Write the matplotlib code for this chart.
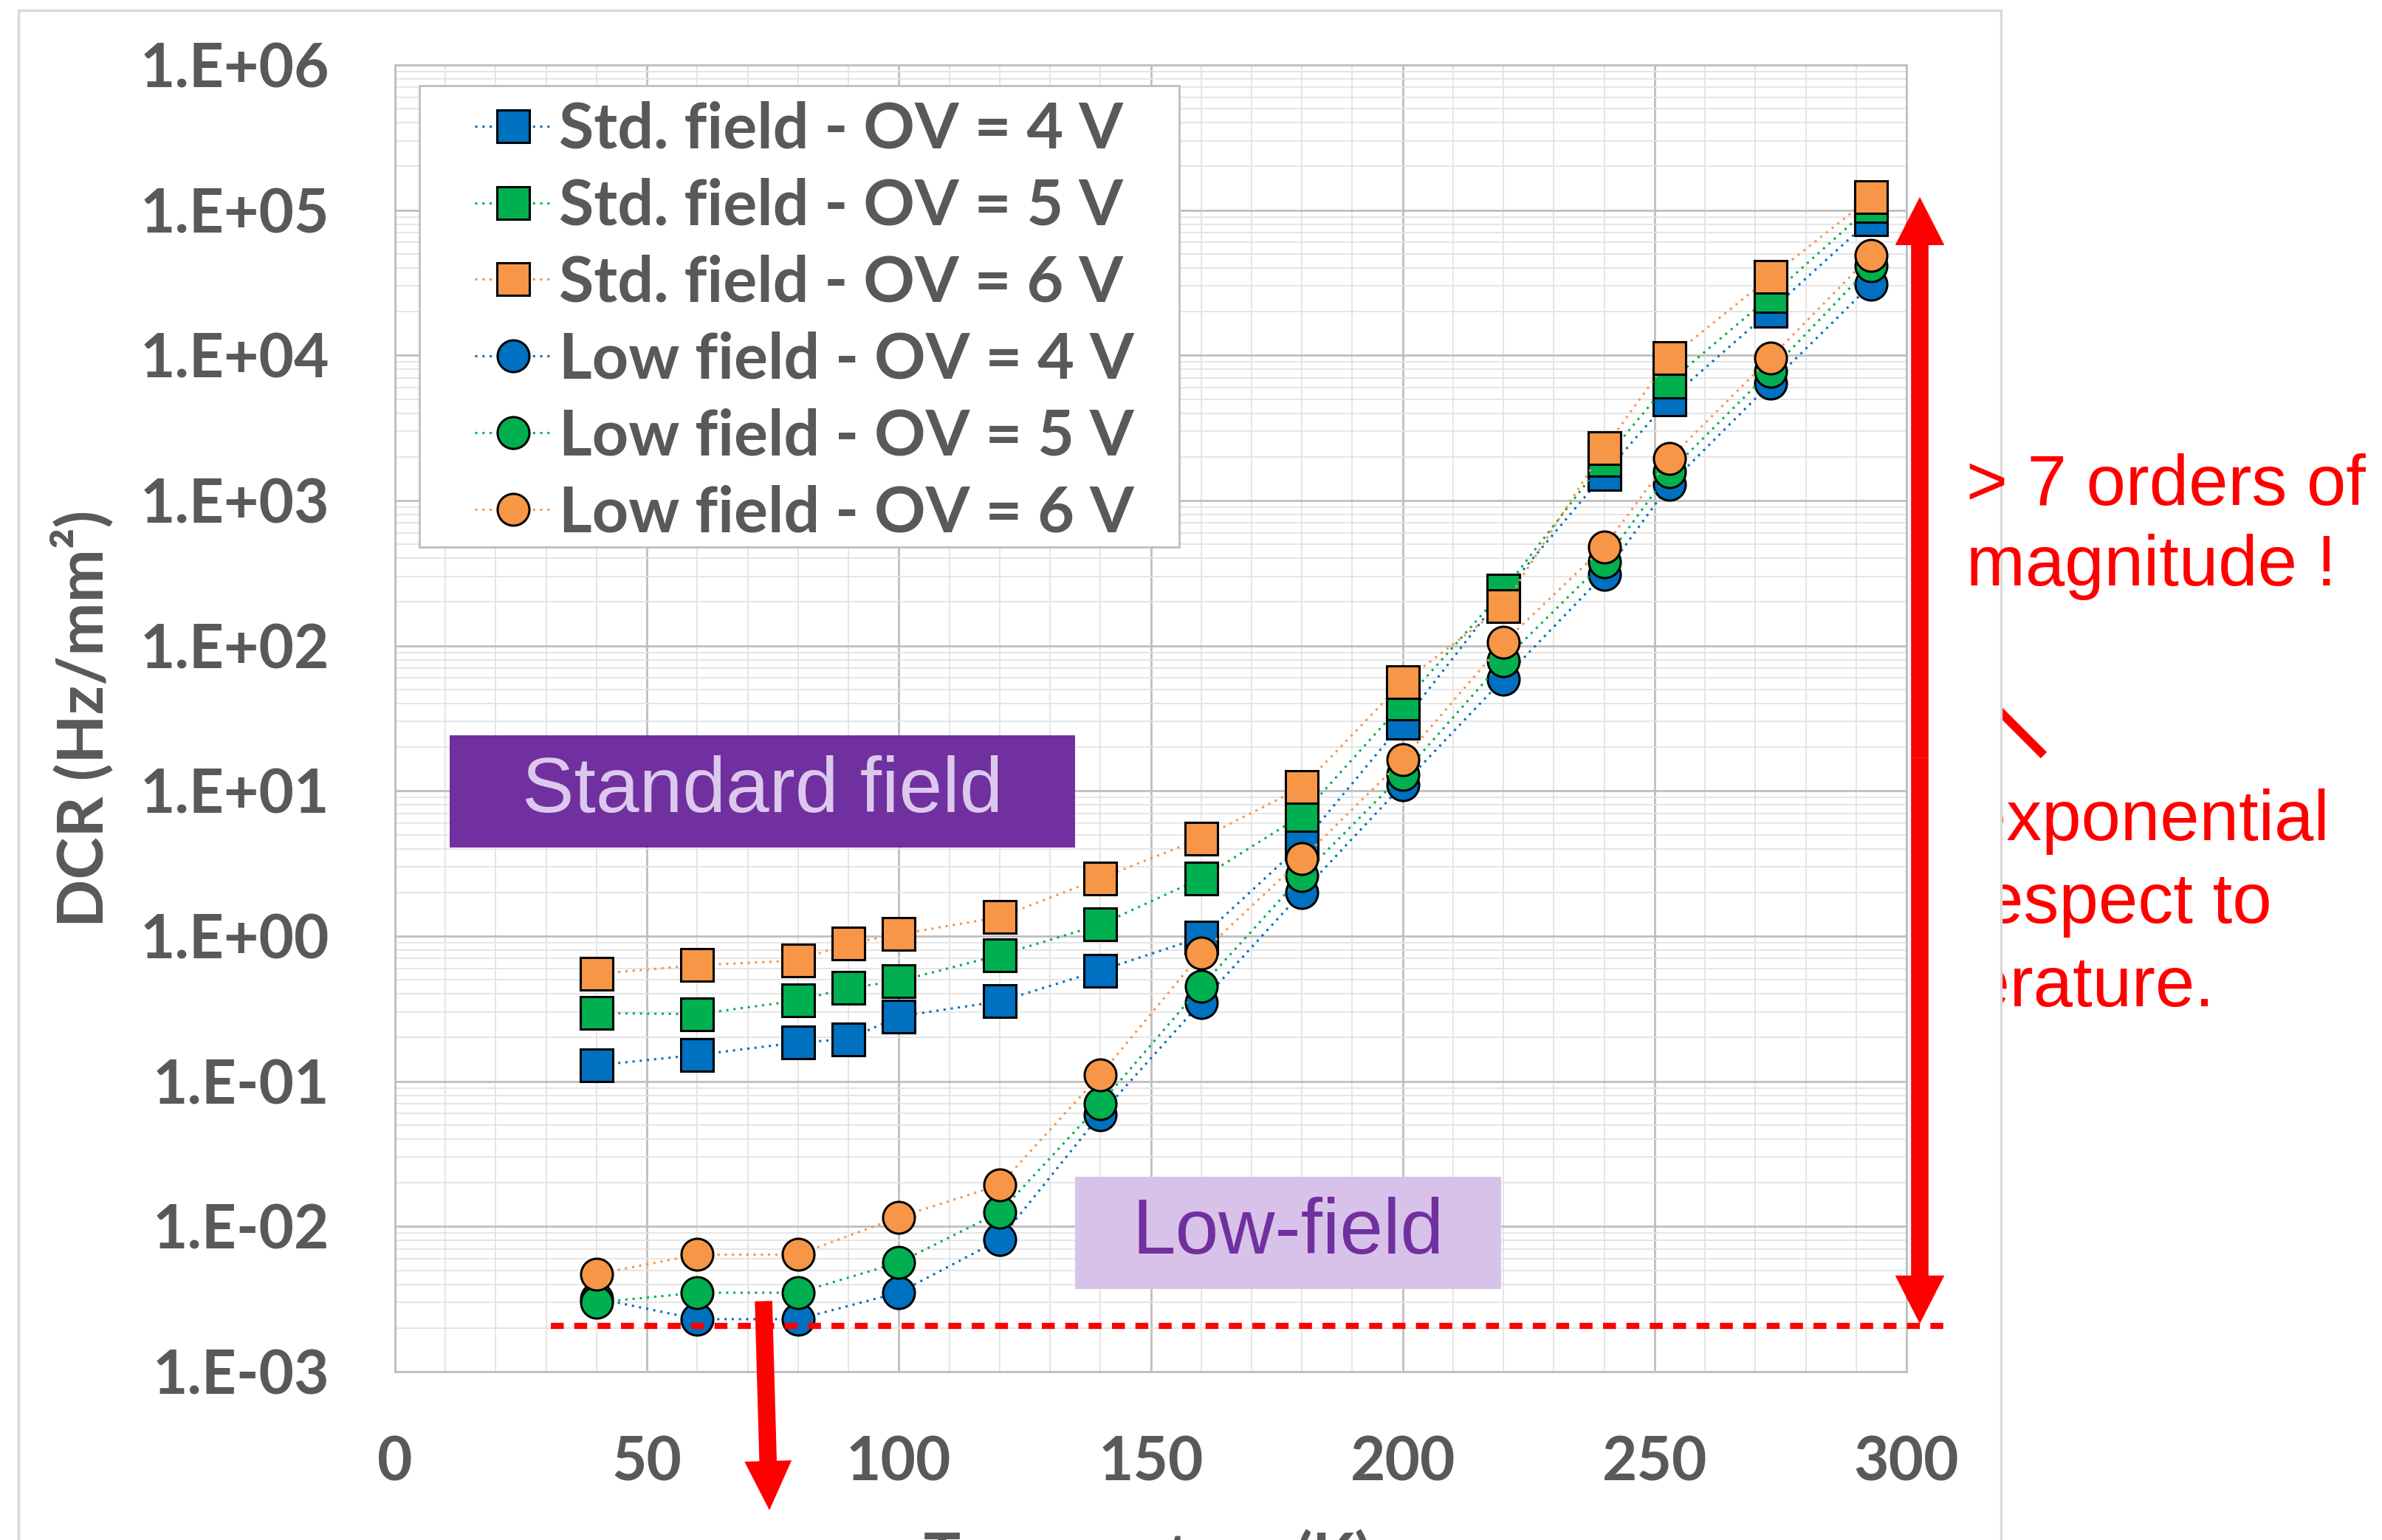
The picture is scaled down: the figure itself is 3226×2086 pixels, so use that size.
import math
import matplotlib
matplotlib.use("Agg")
import matplotlib.pyplot as plt
from matplotlib.patches import Rectangle, FancyArrowPatch
from matplotlib.lines import Line2D
from matplotlib.ticker import FixedLocator, FuncFormatter, MultipleLocator, LogLocator, NullFormatter

# temperatures (K)
T_std = [40, 60, 80, 90, 100, 120, 140, 160, 180, 200, 220, 240, 253, 273, 293]
T_low = [40, 60, 80, 100, 120, 140, 160, 180, 200, 220, 240, 253, 273, 293]

# DCR (Hz/mm2)
std4 = [0.129, 0.152, 0.185, 0.195, 0.28, 0.355, 0.58, 0.98, 4.3, 29.5, 230, 1520, 5000, 20300, 87000]
std5 = [0.295, 0.29, 0.36, 0.44, 0.49, 0.74, 1.2, 2.5, 6.8, 40, 240, 1900, 6600, 25500, 107000]
std6 = [0.55, 0.63, 0.68, 0.89, 1.03, 1.35, 2.5, 4.7, 10.6, 56, 187, 2290, 9600, 34700, 123000]
low4 = [0.0032, 0.0023, 0.0023, 0.0035, 0.0081, 0.059, 0.35, 2.0, 11, 59, 310, 1290, 6400, 30800]
low5 = [0.0030, 0.0035, 0.0035, 0.00565, 0.0125, 0.070, 0.45, 2.6, 13, 79, 380, 1580, 7800, 41500]
low6 = [0.0047, 0.0064, 0.0064, 0.0116, 0.0193, 0.111, 0.76, 3.4, 16.4, 105, 480, 1950, 9600, 49000]

labels = ["Std. field - OV = 4 V", "Std. field - OV = 5 V", "Std. field - OV = 6 V",
          "Low field - OV = 4 V", "Low field - OV = 5 V", "Low field - OV = 6 V"]
colors = ["#0070C0", "#00B050", "#F79646"]

x_ticks = [0, 50, 100, 150, 200, 250, 300]
y_decades = [-3, -2, -1, 0, 1, 2, 3, 4, 5, 6]

gray = "#595959"
fnt = ["Lato", "DejaVu Sans"]
arial = ["Liberation Sans", "DejaVu Sans"]

fig = plt.figure(figsize=(32.26, 20.86), dpi=100)
W, H = 3226.0, 2086.0

# chart area frame; the side text sits behind it
fig.patches.append(Rectangle((25 / W, -0.05), (2710 - 25) / W, 1.05 - 14 / H,
                             transform=fig.transFigure, facecolor="white",
                             edgecolor="#d9d9d9", lw=2.5, zorder=-1))
for txt, xr, yb in [("~exponential", 3155, 1138), ("with respect to", 3077, 1250),
                    ("temperature.", 2999, 1363)]:
    fig.text(xr / W, 1 - yb / H, txt, ha="right", va="baseline", color="red",
             fontsize=69, family=arial, zorder=-2)
fig.lines.append(Line2D([2690 / W, 2768 / W], [1 - 945 / H, 1 - 1023 / H],
                        transform=fig.transFigure, color="red", lw=8.5,
                        solid_capstyle="butt", zorder=-2))

fig.text(2663 / W, 1 - 684 / H, "> 7 orders of", color="red", fontsize=69,
         family=arial, va="baseline", ha="left", zorder=5)
fig.text(2663 / W, 1 - 793 / H, "magnitude !", color="red", fontsize=69,
         family=arial, va="baseline", ha="left", zorder=5)

ax = fig.add_axes([535 / W, 1 - 1858 / H, 2047 / W, 1770 / H])
ax.set_facecolor("white")

series = [(T_std, std4, "s", 0), (T_std, std5, "s", 1), (T_std, std6, "s", 2),
          (T_low, low4, "o", 0), (T_low, low5, "o", 1), (T_low, low6, "o", 2)]
for (t, v, m, c), lab in zip(series, labels):
    ax.plot(t, v, linestyle=(0, (1, 2.2)), lw=2.2, color=colors[c], marker=m,
            markersize=31, markerfacecolor=colors[c], markeredgecolor="black",
            markeredgewidth=2.2, label=lab, zorder=3)

ax.set_yscale("log")
ax.set_xlim(0, 300)
ax.set_ylim(1e-3, 1e6)
ax.xaxis.set_major_locator(FixedLocator(x_ticks))
ax.xaxis.set_minor_locator(MultipleLocator(10))
ax.yaxis.set_major_locator(FixedLocator([10.0 ** e for e in y_decades]))
ax.yaxis.set_minor_locator(LogLocator(base=10, subs=range(2, 10), numticks=20))
ax.yaxis.set_minor_formatter(NullFormatter())
ax.yaxis.set_major_formatter(FuncFormatter(lambda v, p: "1.E%+03d" % round(math.log10(v))))
ax.grid(which="major", color="#bfbfbf", lw=2.0, zorder=0)
ax.grid(which="minor", color="#e3e3e3", lw=1.3, zorder=0)
ax.set_axisbelow(True)
for s in ax.spines.values():
    s.set_color("#bfbfbf")
    s.set_linewidth(2.0)
ax.tick_params(which="both", length=0)
ax.tick_params(axis="y", pad=64)
ax.tick_params(axis="x", pad=62)
for lab in ax.get_xticklabels() + ax.get_yticklabels():
    lab.set_fontsize(59)
    lab.set_fontweight("bold")
    lab.set_color(gray)
    lab.set_family(fnt)

ax.set_ylabel("DCR (Hz/mm²)", fontsize=62, fontweight="bold", color=gray, family=fnt)
ax.yaxis.set_label_coords(-0.186, 0.5)
fig.text(0.4817, 1 - 2136 / H, "Temperature (K)", ha="center", va="baseline",
         fontsize=60, fontweight="bold", color=gray, family=fnt)

# legend with its own box
ax.add_patch(Rectangle((0.016, 0.631), 0.503, 0.353, transform=ax.transAxes,
                       facecolor="white", edgecolor="#bfbfbf", lw=2, zorder=4))
leg = ax.legend(loc="upper left", bbox_to_anchor=(0.053, 0.9725), frameon=False,
                borderpad=0, borderaxespad=0, handlelength=1.2, handletextpad=0.12,
                labelspacing=0.29, prop={"family": fnt, "weight": "bold", "size": 62},
                labelcolor=gray)
leg.set_zorder(5)

# annotation boxes
ax.add_patch(Rectangle((0.036, 0.401), 0.414, 0.086, transform=ax.transAxes,
                       facecolor="#7030A0", edgecolor="none", zorder=4))
ax.text(0.243, 0.444, "Standard field", transform=ax.transAxes, ha="center", va="center",
        fontsize=76, color="#DCC8EC", family=arial, zorder=5)
ax.add_patch(Rectangle((0.450, 0.063), 0.282, 0.086, transform=ax.transAxes,
                       facecolor="#D9C2E9", edgecolor="none", zorder=4))
ax.text(0.591, 0.106, "Low-field", transform=ax.transAxes, ha="center", va="center",
        fontsize=76, color="#7030A0", family=arial, zorder=5)

# red marks
ax.axhline(2.07e-3, xmin=0.103, xmax=1.028, color="red", lw=6, dashes=(2.1, 1.7),
           clip_on=False, zorder=6)
mid = 0.47
for y_end in (0.899, 0.0367):
    ax.add_patch(FancyArrowPatch((1.0088, mid), (1.0088, y_end), transform=ax.transAxes,
                                 arrowstyle="simple,head_length=47,head_width=48,tail_width=17",
                                 mutation_scale=1, shrinkA=0, shrinkB=0, color="red",
                                 lw=0, clip_on=False, zorder=6))
ax.add_patch(FancyArrowPatch((0.2438, 0.054), (0.2477, -0.106), transform=ax.transAxes,
                             arrowstyle="simple,head_length=48,head_width=46,tail_width=17",
                             mutation_scale=1, shrinkA=0, shrinkB=0, color="red",
                             lw=0, clip_on=False, zorder=6))

fig.savefig("out.png", dpi=100)
